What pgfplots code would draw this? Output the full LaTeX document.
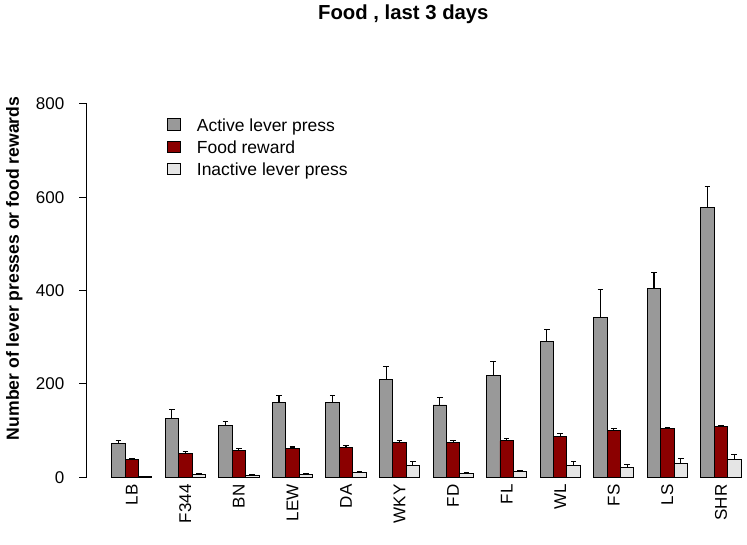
\documentclass[border=0pt]{standalone}
\usepackage{pgfplots}
\pgfplotsset{compat=1.18}
\usepackage{pgfplotstable}
\usepackage{fontspec}
\setmainfont{Liberation Sans}
\definecolor{bgray}{RGB}{153,153,153}
\definecolor{bred}{RGB}{139,0,0}
\definecolor{blight}{RGB}{229,229,229}

% x = bar centre, v = mean, e = upper error
\pgfplotstableread{
x v e
1.5 72 6
5.5 127 19
9.5 111 9
13.5 160 15
17.5 161 15
21.5 210 27
25.5 155 16
29.5 218 30
33.5 292 25
37.5 342 61
41.5 405 34
45.5 578 45
}\activetab
\pgfplotstableread{
x v e
2.5 38 2.2
6.5 51 4
10.5 58 3
14.5 61 4
18.5 64 4
22.5 75 4.5
26.5 74 5
30.5 78 5
34.5 87 6
38.5 100 5.5
42.5 105 1.5
46.5 108 3
}\foodtab
\pgfplotstableread{
x v e
3.5 2 0.5
7.5 7 2
11.5 5 1
15.5 7 1.5
19.5 10 3
23.5 26 7.5
27.5 8.5 1.5
31.5 12 1.5
35.5 26 7
39.5 21 5.5
43.5 29 11.5
47.5 38.5 11
}\inactivetab

\pgfplotsset{
  sqleg/.style={legend image code/.code={\draw[black, line width=0.9pt, fill=#1] (0pt,-3.5pt) rectangle (13.3pt,7.9pt);}},
  mybar/.style={ybar, bar width=1, bar shift=0pt, draw=black, line width=0.9pt, fill=#1,
    error bars/.cd, y dir=plus, y explicit, error mark=-,
    error bar style={line width=1.1pt, black},
    error mark options={rotate=90, line width=1.1pt, mark size=2.8pt, black}, /pgfplots/.cd},
}

\begin{document}
\begin{tikzpicture}
\useasboundingbox (0,0) rectangle (747pt,545pt);
\begin{axis}[
  at={(86.5pt,67.7pt)}, anchor=south west,
  scale only axis, width=660.5pt, height=373.3pt,
  xmin=-0.88, xmax=48.45, ymin=0, ymax=800,
  clip=false,
  axis lines=left,
  axis line style={-, line width=1pt, black},
  x axis line style={draw=none},
  tick align=outside,
  major tick length=7pt,
  ytick={0,200,400,600,800},
  ytick style={line width=1pt, black},
  xtick={2.5,6.5,10.5,14.5,18.5,22.5,26.5,30.5,34.5,38.5,42.5,46.5},
  xticklabels={LB,F344,BN,LEW,DA,WKY,FD,FL,WL,FS,LS,SHR},
  xtick style={draw=none},
  /pgf/number format/assume math mode=true,
  yticklabel style={font=\fontsize{17pt}{20pt}\selectfont, anchor=east, inner sep=0pt, xshift=-15pt},
  xticklabel style={font=\fontsize{17pt}{20pt}\selectfont, rotate=90, anchor=east, inner sep=0pt},
  ylabel={Number of lever presses or food rewards},
  ylabel style={at={(axis description cs:-0.1022,0.5596)}, anchor=base, font=\bfseries\fontsize{17.6pt}{20pt}\selectfont},
  title={Food , last 3 days},
  title style={at={(axis description cs:0.4797,1.209)}, anchor=base, font=\bfseries\fontsize{20.3pt}{24pt}\selectfont},
  legend style={at={(axis description cs:0.1214,0.962)}, anchor=north west, draw=none, fill=none,
    inner sep=0pt, outer sep=0pt, row sep=6pt, column sep=16pt,
    font=\fontsize{17.5pt}{20pt}\selectfont,
    nodes={inner sep=0pt, text height=12.5pt, text depth=3.5pt}},
  legend cell align=left,
]
\addplot[sqleg=bgray, mybar=bgray] table[x=x, y=v, y error plus=e] {\activetab};
\addlegendentry{Active lever press}
\addplot[sqleg=bred, mybar=bred] table[x=x, y=v, y error plus=e] {\foodtab};
\addlegendentry{Food reward}
\addplot[sqleg=blight, mybar=blight] table[x=x, y=v, y error plus=e] {\inactivetab};
\addlegendentry{Inactive lever press}
\end{axis}
\end{tikzpicture}
\end{document}
